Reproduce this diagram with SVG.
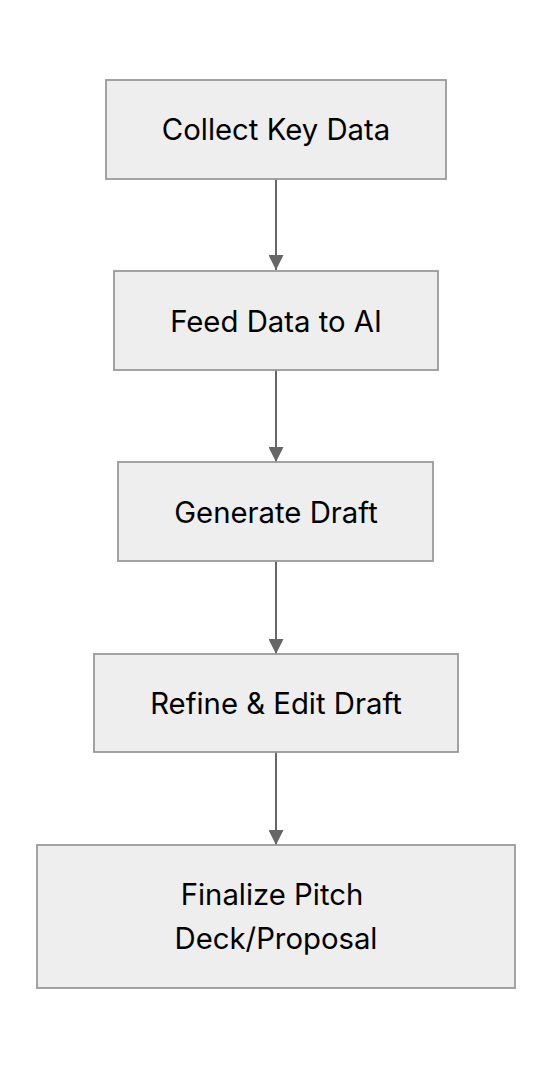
<svg xmlns="http://www.w3.org/2000/svg" width="552" height="1068" viewBox="0 0 552 1068">
<style>
.node rect{fill:#eeeeee;stroke:#999999;stroke-width:1.8}
.node text{font-family:Inter,"Liberation Sans",sans-serif;font-size:29.3px;fill:#000;text-anchor:middle}
.edge{stroke:#666666;stroke-width:2;fill:none}
</style>
<defs>
<marker id="arrow" viewBox="0 0 10 10" refX="10" refY="5" markerUnits="userSpaceOnUse" markerWidth="15" markerHeight="15" orient="auto">
<path d="M0,0 L10,5 L0,10 z" fill="#666666"/>
</marker>
</defs>
<rect width="552" height="1068" fill="#ffffff"/>
<g id="connectors">
<path class="edge" d="M276,179 L276,270" marker-end="url(#arrow)"/>
<path class="edge" d="M276,370 L276,462" marker-end="url(#arrow)"/>
<path class="edge" d="M276,561 L276,654" marker-end="url(#arrow)"/>
<path class="edge" d="M276,752 L276,845" marker-end="url(#arrow)"/>
</g>
<g id="n1" class="node"><rect x="106" y="80" width="340" height="99"/><text x="276" y="139.5">Collect Key Data</text></g>
<g id="n2" class="node"><rect x="114" y="271" width="324" height="99"/><text x="276" y="331.5">Feed Data to AI</text></g>
<g id="n3" class="node"><rect x="118" y="462" width="315" height="99"/><text x="276" y="522.5">Generate Draft</text></g>
<g id="n4" class="node"><rect x="94" y="654" width="364" height="98"/><text x="276" y="714">Refine &amp; Edit Draft</text></g>
<g id="n5" class="node"><rect x="37" y="845" width="478" height="143"/><text x="272" y="905">Finalize Pitch</text><text x="276" y="949">Deck/Proposal</text></g>
</svg>
